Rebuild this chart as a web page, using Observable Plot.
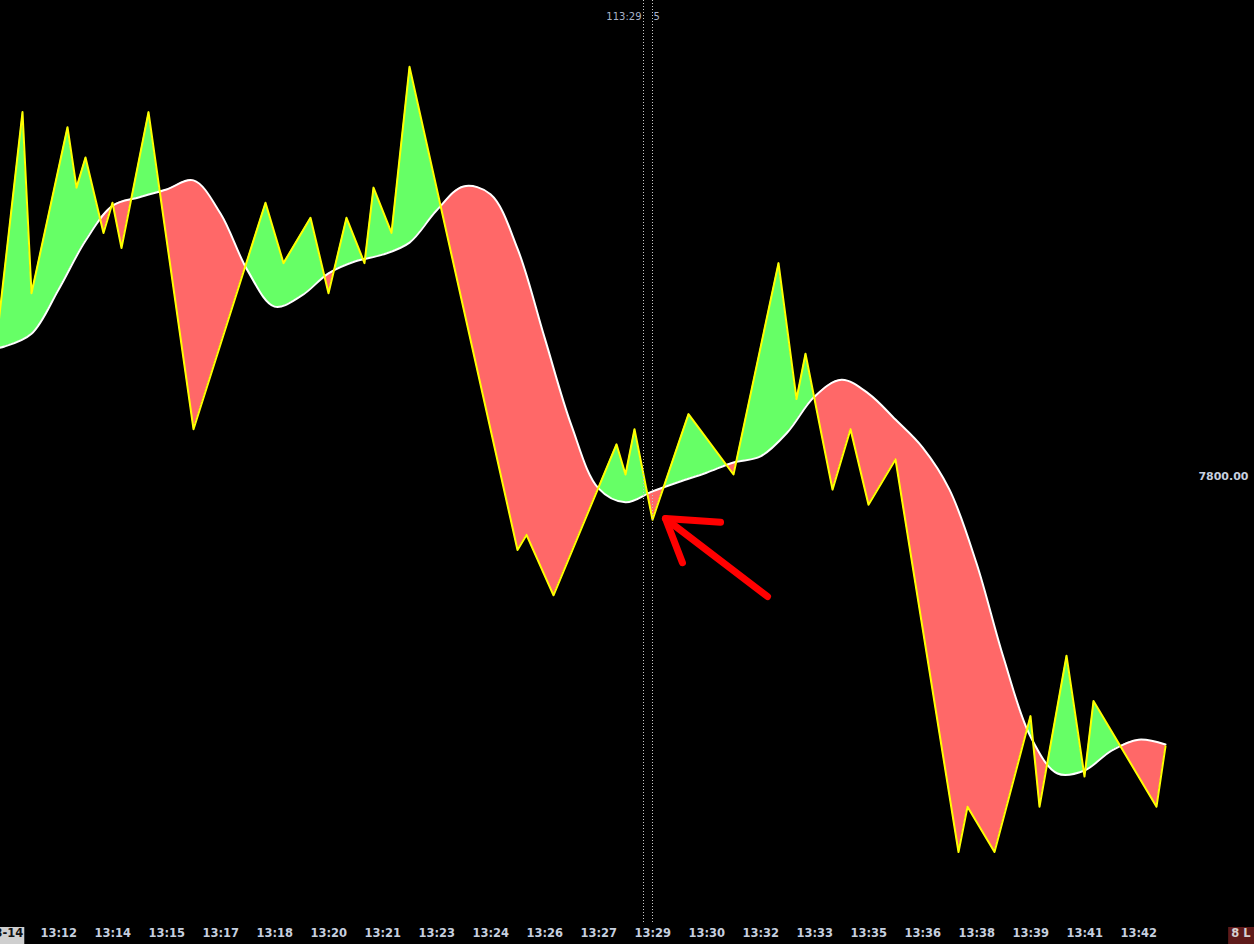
<!DOCTYPE html>
<html><head><meta charset="utf-8">
<script src="https://cdn.jsdelivr.net/npm/d3@7"></script>
<script src="https://cdn.jsdelivr.net/npm/@observablehq/plot@0.6"></script>
<style>html,body{margin:0;padding:0;background:#000;overflow:hidden}</style>
</head><body><div id="chart"></div>
<script>
// Price (bar index of each turning point, price)
const priceK = [-2,2,3,7,8,9,11,12,13,16,21,29,31,34,36,38,40,41,43,45,57,58,61,68,69,70,72,76,81,86,88,89,92,94,96,99,106,107,110,114,115,118,120,121,128,129];
const priceV = [7800.75,7806.00,7803.00,7805.75,7804.75,7805.25,7804.00,7804.50,7803.75,7806.00,7800.75,7804.50,7803.50,7804.25,7803.00,7804.25,7803.50,7804.75,7804.00,7806.75,7798.75,7799.00,7798.00,7800.50,7800.00,7800.75,7799.25,7801.00,7800.00,7803.50,7801.25,7802.00,7799.75,7800.75,7799.50,7800.25,7793.75,7794.50,7793.75,7796.00,7794.50,7797.00,7795.00,7796.25,7794.50,7795.50];
// Moving average (bar index, value)
const maK = [-1,0,3,6,9,12,15,18,21,24,27,30,33,36,39,42,45,48,51,54,57,60,63,66,69,72,75,78,81,84,87,90,93,96,99,102,105,108,111,114,117,120,123,126,129];
const maV = [7802.09,7802.12,7802.33,7803.06,7803.87,7804.45,7804.59,7804.72,7804.87,7804.32,7803.38,7802.78,7802.96,7803.33,7803.53,7803.64,7803.84,7804.37,7804.77,7804.64,7803.74,7802.27,7800.81,7799.77,7799.54,7799.72,7799.88,7800.03,7800.20,7800.30,7800.70,7801.29,7801.57,7801.34,7800.91,7800.45,7799.75,7798.53,7796.97,7795.66,7795.05,7795.10,7795.43,7795.61,7795.53];
// Time axis
const tickK = [-2,4,10,16,22,28,34,40,46,52,58,64,70,76,82,88,94,100,106,112,118,124];
const tickLabels = ["03-14","13:12","13:14","13:15","13:17","13:18","13:20","13:21","13:23","13:24","13:26","13:27","13:29","13:30","13:32","13:33","13:35","13:36","13:38","13:39","13:41","13:42"];
// Cursor and labels
const cursorK = [71, 72];
const cursorLabels = ["113:29", "5"];
const priceLabels = [7800];
const cornerLabel = ["8 L"];
// Annotation arrow (bar index, price, stroke part)
const arrowK = [79.56, 73.44, 75.33, 73.44, 84.78];
const arrowV = [7799.21, 7799.27, 7798.54, 7799.27, 7797.98];
const arrowPart = [0, 0, 0, 1, 1];

const price = priceK.map((k, i) => ({k, v: priceV[i]}));
const ma = maK.map((k, i) => ({k, v: maV[i]}));
const arrow = arrowK.map((k, i) => ({k, v: arrowV[i], z: arrowPart[i]}));
const Y0 = 7792.583, Y1 = 7807.848;
const W = 1254, H = 944;
const curve = "catmull-rom";
const axisColor = "#c6cfdf";

const marks = [
  Plot.areaY(ma, {x: "k", y1: "v", y2: Y1, fill: "#66ff66", curve}),            // 0 green fill
  Plot.areaY(price, {x: "k", y1: Y0, y2: "v", fill: "#000"}),                     // 1 clip: below price
  Plot.areaY(price, {x: "k", y1: "v", y2: Y1, fill: "#ff6868"}),                  // 2 red fill
  Plot.areaY(ma, {x: "k", y1: Y0, y2: "v", fill: "#000", curve}),                 // 3 clip: below MA
  Plot.line(ma, {x: "k", y: "v", stroke: "#ffffff", strokeWidth: 2, curve}),      // 4
  Plot.line(price, {x: "k", y: "v", stroke: "#ffff00", strokeWidth: 2}),          // 5
  Plot.ruleX(cursorK, {x: d => d, stroke: "#c8c8c8", strokeDasharray: "1,2", strokeWidth: 1}), // 6
  Plot.text([cursorK[0]], {x: d => d, frameAnchor: "top", dy: 12, dx: -2, textAnchor: "end", text: () => cursorLabels[0], fill: "#a9b3c9", fontSize: 10}), // 7
  Plot.text([cursorK[1]], {x: d => d, frameAnchor: "top", dy: 12, dx: 1, textAnchor: "start", text: () => cursorLabels[1], fill: "#a9b3c9", fontSize: 10}), // 8
  Plot.text(priceLabels, {y: d => d, frameAnchor: "right", dx: -6, dy: 2, textAnchor: "end", text: d => d.toFixed(2), fill: axisColor, fontSize: 11, fontWeight: "bold"}), // 9
  Plot.text(tickK, {x: d => d, frameAnchor: "bottom", dy: 14, textAnchor: "start", text: (d, i) => tickLabels[i], fill: axisColor, fontSize: 11.5, fontWeight: "bold"}), // 10
  Plot.text(cornerLabel, {frameAnchor: "bottom-right", dx: -4, dy: 14, textAnchor: "end", text: d => d, fill: "#d8d0d0", fontSize: 11.5, fontWeight: "bold"}), // 11
  Plot.line(arrow, {x: "k", y: "v", z: "z", stroke: "#ff0000", strokeWidth: 7, strokeLinecap: "round", strokeLinejoin: "round"}) // 12
];

const plot = Plot.plot({
  width: W, height: H, marginTop: 0, marginBottom: 22, marginLeft: 0, marginRight: 0,
  style: {background: "#000", fontFamily: "DejaVu Sans"},
  x: {domain: [-4/9, 1250/9], axis: null},
  y: {domain: [Y0, Y1], axis: null},
  marks
});
document.getElementById("chart").appendChild(plot);

const svg = d3.select(plot);
const groups = svg.selectAll(":scope > g").nodes();
const defs = svg.insert("defs", ":first-child");
function useAsClip(clipIdx, targetIdx, id) {
  const g = groups[clipIdx], target = groups[targetIdx];
  if (!g || !target) return;
  const cp = defs.append("clipPath").attr("id", id);
  const tr = g.getAttribute("transform");
  d3.select(g).selectAll("path").each(function() {
    const p = cp.append("path").attr("d", this.getAttribute("d"));
    const ptr = this.getAttribute("transform") || tr;
    if (ptr) p.attr("transform", ptr);
  });
  g.remove();
  target.setAttribute("clip-path", `url(#${id})`);
}
useAsClip(1, 0, "clipPriceBelow");
useAsClip(3, 2, "clipMaBelow");

// label background boxes, placed from the rendered text positions
const svgRect = plot.getBoundingClientRect();
function boxBehind(group, textNode, fill, extendRight) {
  const b = textNode.getBoundingClientRect();
  const x0 = b.left - svgRect.left - 3;
  const r = document.createElementNS("http://www.w3.org/2000/svg", "rect");
  r.setAttribute("x", x0);
  r.setAttribute("y", H - 17);
  r.setAttribute("width", extendRight ? (W - x0) : (b.width + 4));
  r.setAttribute("height", 17);
  r.setAttribute("fill", fill);
  plot.insertBefore(r, group);
}
const firstTick = groups[10] && groups[10].querySelector("text");
if (firstTick) { boxBehind(groups[10], firstTick, "#cfcfcf", false); firstTick.setAttribute("fill", "#111"); }
const corner = groups[11] && groups[11].querySelector("text");
if (corner) boxBehind(groups[11], corner, "#5e1a1a", true);
</script>
</body></html>
